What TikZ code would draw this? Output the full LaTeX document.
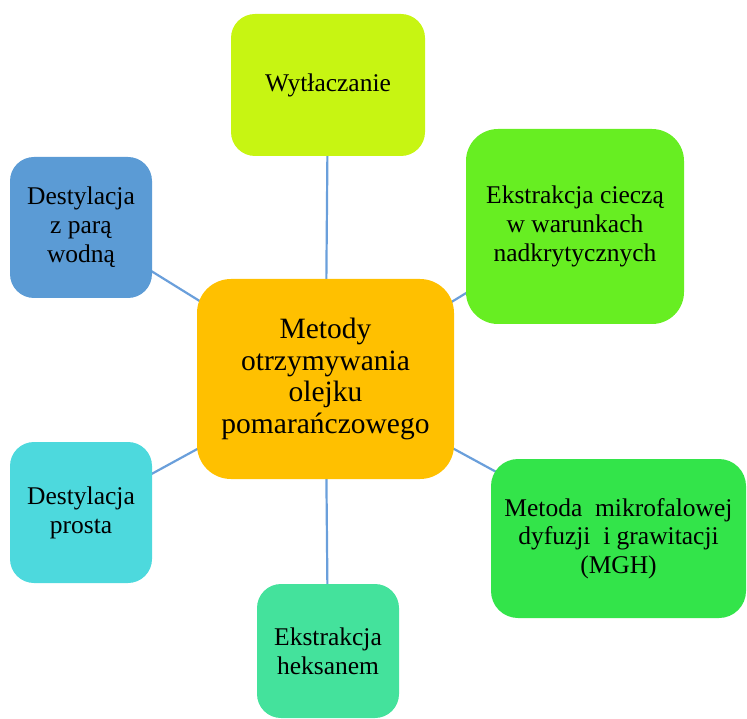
\documentclass[tikz,border=0pt]{standalone}
\usepackage{fontspec}
\setmainfont{Liberation Serif}
\usetikzlibrary{backgrounds}
\definecolor{cCen}{HTML}{FFC000}
\definecolor{cWyt}{HTML}{C7F512}
\definecolor{cEkc}{HTML}{67EE22}
\definecolor{cMgh}{HTML}{33E44A}
\definecolor{cHek}{HTML}{44E29C}
\definecolor{cDpr}{HTML}{4DD9DD}
\definecolor{cDzp}{HTML}{5B9BD5}
\definecolor{cLine}{HTML}{6A9FDB}
\tikzset{
  box/.style={rectangle, inner sep=0pt, align=center, text=black,
    font=\fontsize{25.5}{29}\selectfont},
  link/.style={draw=cLine, line width=2.2pt},
}
\begin{document}
\begin{tikzpicture}[x=1pt,y=-1pt]
\useasboundingbox (0,0) rectangle (747,719);
\node[box, fill=cCen, minimum width=257pt, minimum height=200pt, rounded corners=34pt,
  font=\fontsize{29.5}{31.5}\selectfont] (cen) at (325.5,379)
  {Metody\\otrzymywania\\olejku\\pomarańczowego};
\node[box, fill=cWyt, minimum width=194pt, minimum height=142pt, rounded corners=24pt] (wyt) at (328,85) {Wytłaczanie};
\node[box, fill=cEkc, minimum width=218pt, minimum height=195pt, rounded corners=32pt] (ekc) at (575,226.5)
  {Ekstrakcja cieczą\\w warunkach\\nadkrytycznych};
\node[box, fill=cMgh, minimum width=255pt, minimum height=159pt, rounded corners=27pt,
  font=\fontsize{25.5}{28.5}\selectfont] (mgh) at (618.5,538.5)
  {Metoda\ \ mikrofalowej\\dyfuzji\ \ i grawitacji\\(MGH)};
\node[box, fill=cHek, minimum width=142pt, minimum height=134pt, rounded corners=24pt] (hek) at (328,651)
  {Ekstrakcja\\heksanem};
\node[box, fill=cDpr, minimum width=142pt, minimum height=141pt, rounded corners=24pt] (dpr) at (81,512.5)
  {Destylacja\\prosta};
\node[box, fill=cDzp, minimum width=142pt, minimum height=141pt, rounded corners=24pt] (dzp) at (81,227.5)
  {Destylacja\\z parą\\wodną};
\begin{scope}[on background layer]
  \draw[link] (cen.center) -- (wyt.center);
  \draw[link] (cen.center) -- (ekc.center);
  \draw[link] (cen.center) -- (mgh.center);
  \draw[link] (cen.center) -- (hek.center);
  \draw[link] (cen.center) -- (dpr.center);
  \draw[link] (cen.center) -- (dzp.center);
\end{scope}
\end{tikzpicture}
\end{document}
